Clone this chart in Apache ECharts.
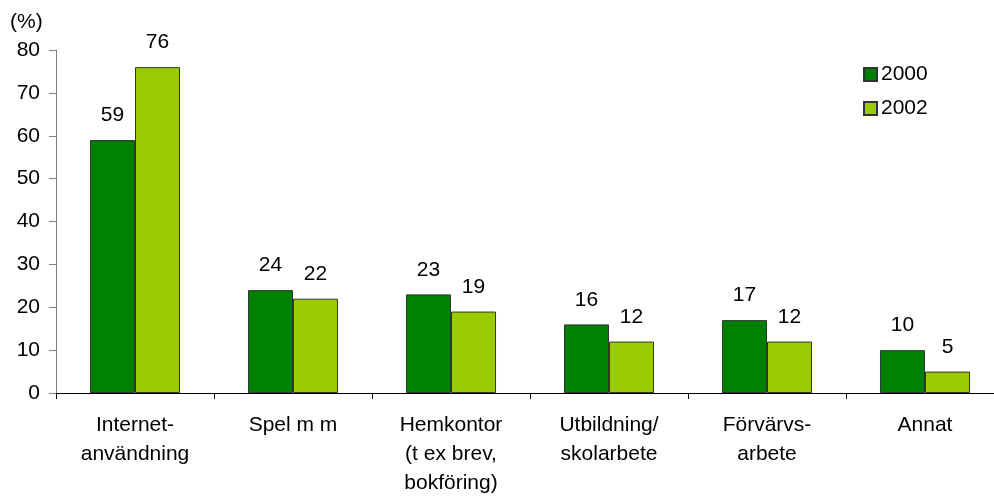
<!DOCTYPE html>
<html>
<head>
<meta charset="utf-8">
<script src="https://cdn.jsdelivr.net/npm/echarts@6/dist/echarts.min.js"></script>
<style>
html,body{margin:0;padding:0;background:#fff;overflow:hidden;}
#mychart{width:1010px;height:498px;}
</style>
</head>
<body>
<div id="mychart"></div>
<script>
// data
const categories = ['Internet-\nanvändning', 'Spel m m', 'Hemkontor\n(t ex brev,\nbokföring)', 'Utbildning/\nskolarbete', 'Förvärvs-\narbete', 'Annat'];
const values2000 = [59, 24, 23, 16, 17, 10];
const values2002 = [76, 22, 19, 12, 12, 5];
const yTicks = [0, 10, 20, 30, 40, 50, 60, 70, 80];

const font = 'Liberation Sans, Arial, sans-serif';
const fs = 21;
// the plot runs a little past the right edge of the 994px picture
let myEcharts = echarts.init(document.getElementById('mychart'));

const labelStyle = {
    show: true,
    position: 'top',
    distance: 14,
    color: '#000',
    fontSize: fs,
    fontFamily: font
};

let option = {
    animation: false,
    textStyle: { fontFamily: font },
    graphic: [{
        type: 'text',
        left: 10,
        top: 12,
        style: { text: '(%)', fontSize: fs, fontFamily: font, fill: '#000' }
    }],
    legend: {
        orient: 'vertical',
        left: 858,
        top: 59,
        itemWidth: 13,
        itemHeight: 13,
        itemGap: 13,
        icon: 'rect',
        textStyle: { fontSize: fs, color: '#000', fontFamily: font, padding: [0, 0, 0, -1] },
        data: ['2000', '2002']
    },
    grid: {
        left: 56,
        top: 50,
        width: 948,
        bottom: 105,
        containLabel: false,
        outerBoundsMode: 'none'
    },
    xAxis: {
        type: 'category',
        data: categories,
        axisLine: { lineStyle: { color: '#000', width: 1 } },
        axisTick: { show: true, length: 6, lineStyle: { color: '#000' } },
        axisLabel: {
            color: '#000',
            fontSize: fs,
            fontFamily: font,
            lineHeight: 29,
            margin: 18,
            interval: 0
        },
        splitLine: { show: false }
    },
    yAxis: {
        type: 'value',
        min: yTicks[0],
        max: yTicks[yTicks.length - 1],
        interval: 10,
        axisLine: { show: true, lineStyle: { color: '#808080', width: 1 } },
        axisTick: { show: true, length: 7, lineStyle: { color: '#808080' } },
        axisLabel: { color: '#000', fontSize: fs, fontFamily: font, margin: 16 },
        splitLine: { show: false }
    },
    series: [
        {
            name: '2000',
            type: 'bar',
            data: values2000,
            barGap: '0%',
            barCategoryGap: '43%',
            itemStyle: { color: '#008000', borderColor: '#333', borderWidth: 1 },
            label: labelStyle
        },
        {
            name: '2002',
            type: 'bar',
            data: values2002,
            itemStyle: { color: '#99cc00', borderColor: '#333', borderWidth: 1 },
            label: labelStyle
        }
    ]
};

myEcharts.setOption(option);
</script>
</body>
</html>
